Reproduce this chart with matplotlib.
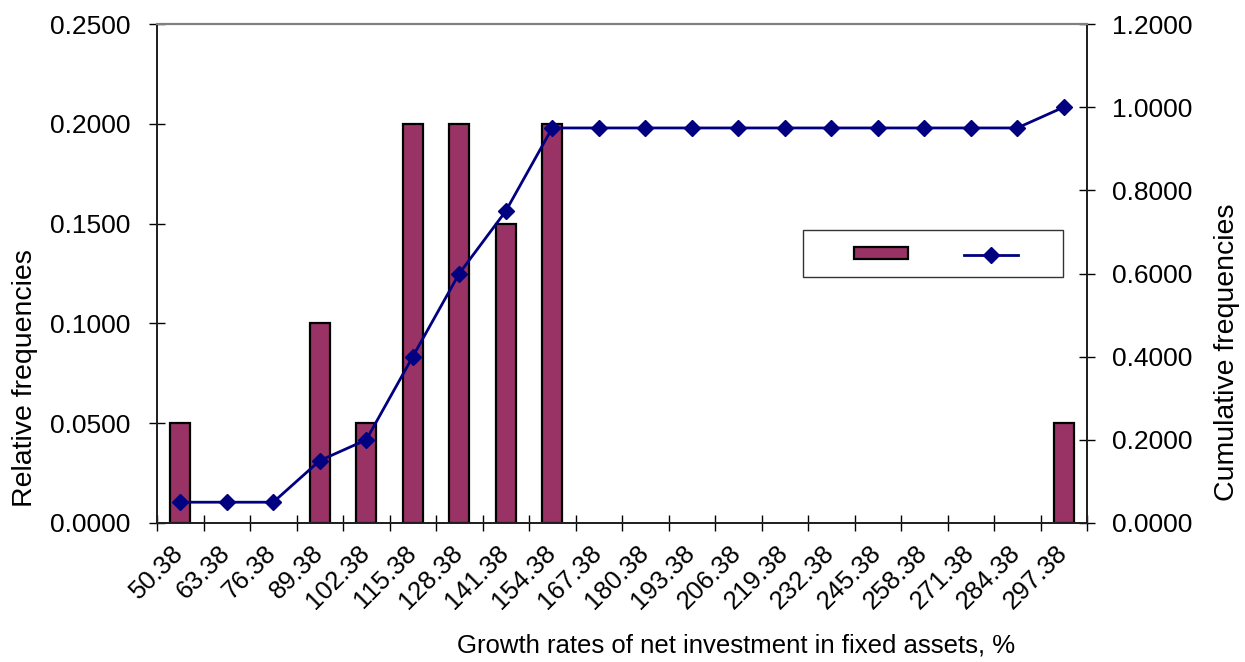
import matplotlib
matplotlib.use("Agg")
import matplotlib.pyplot as plt
from matplotlib.patches import Rectangle
from matplotlib.lines import Line2D
from matplotlib.transforms import ScaledTranslation
import numpy as np

# Interval labels (growth rates of net investment, %)
categories = ["50.38", "63.38", "76.38", "89.38", "102.38", "115.38", "128.38",
              "141.38", "154.38", "167.38", "180.38", "193.38", "206.38",
              "219.38", "232.38", "245.38", "258.38", "271.38", "284.38", "297.38"]

# Relative frequency per interval
relative = [0.05, 0.0, 0.0, 0.10, 0.05, 0.20, 0.20, 0.15, 0.20, 0.0,
            0.0, 0.0, 0.0, 0.0, 0.0, 0.0, 0.0, 0.0, 0.0, 0.05]

# Cumulative frequency per interval
cumulative = [0.05, 0.05, 0.05, 0.15, 0.20, 0.40, 0.60, 0.75, 0.95, 0.95,
              0.95, 0.95, 0.95, 0.95, 0.95, 0.95, 0.95, 0.95, 0.95, 1.00]

left_ticks = [0.0, 0.05, 0.10, 0.15, 0.20, 0.25]
right_ticks = [0.0, 0.2, 0.4, 0.6, 0.8, 1.0, 1.2]

plt.rcParams["font.family"] = ["Liberation Sans", "DejaVu Sans"]
FS_TICK = 19
FS_X = 18.5
FS_YLAB = 20.5

BAR_COLOR = "#993366"
LINE_COLOR = "#000080"

fig = plt.figure(figsize=(12.45, 6.62), dpi=100)
ax = fig.add_axes([157 / 1245, 1 - 523 / 662, (1087 - 157) / 1245, (523 - 24) / 662])
ax2 = ax.twinx()

x = np.arange(len(categories))
edge_widths = [1.6 if v > 0 else 0.0 for v in relative]
ax.bar(x, relative, width=0.43, color=BAR_COLOR, edgecolor="black",
       linewidth=edge_widths, zorder=2)
ax2.plot(x, cumulative, color=LINE_COLOR, linewidth=2.0, marker="D",
         markersize=8.5, markerfacecolor=LINE_COLOR, markeredgecolor=LINE_COLOR,
         zorder=3)

n = len(categories)
ax.set_xlim(-0.5, n - 0.5)
ax.set_ylim(0, 0.25)
ax2.set_ylim(0, 1.2)

# Category labels in the middle of each slot, tick marks on the slot boundaries
ax.set_xticks(x)
ax.set_xticklabels(categories, rotation=45, ha="right", va="top", fontsize=FS_X)
ax.tick_params(axis="x", which="major", length=0, pad=13)
shift = ScaledTranslation(8 / 100, 0, fig.dpi_scale_trans)
for lab in ax.get_xticklabels():
    lab.set_transform(lab.get_transform() + shift)
ax.set_xticks(np.arange(-0.5, n, 1.0), minor=True)
ax.tick_params(axis="x", which="minor", direction="inout", length=12,
               width=1.0, color="black")

ax.set_yticks(left_ticks)
ax.set_yticklabels([f"{v:.4f}" for v in left_ticks], fontsize=FS_TICK)
ax.tick_params(axis="y", direction="inout", length=12, width=1.0, pad=13)

ax2.set_yticks(right_ticks)
ax2.set_yticklabels([f"{v:.4f}" for v in right_ticks], fontsize=FS_TICK)
ax2.tick_params(axis="y", direction="inout", length=12, width=1.0, pad=12)

for a in (ax, ax2):
    a.spines["top"].set_color("#808080")
    a.spines["top"].set_linewidth(1.5)
    for s in ("left", "right", "bottom"):
        a.spines[s].set_color("#202020")
        a.spines[s].set_linewidth(1.3)

ax.set_zorder(ax2.get_zorder() - 1)
ax2.patch.set_visible(False)

# Axis titles
fig.text(736 / 1245, 1 - 645 / 662, "Growth rates of net investment in fixed assets, %",
         ha="center", va="center", fontsize=FS_X)
fig.text(25 / 1245, 1 - 378 / 662, "Relative frequencies", rotation=90,
         ha="center", va="center", fontsize=FS_YLAB)
fig.text(1227 / 1245, 1 - 352 / 662, "Cumulative frequencies", rotation=90,
         ha="center", va="center", fontsize=FS_YLAB)

# Key box with the two series symbols (no text)
def fx(px):
    return (px - 157) / (1087 - 157)

def fy(py):
    return (523 - py) / (523 - 24)

ax2.add_patch(Rectangle((fx(803), fy(277)), fx(1063) - fx(803), fy(230) - fy(277),
                        transform=ax2.transAxes, facecolor="white",
                        edgecolor="#333333", linewidth=1.0, zorder=5))
ax2.add_patch(Rectangle((fx(854), fy(259)), fx(908) - fx(854), fy(247) - fy(259),
                        transform=ax2.transAxes, facecolor=BAR_COLOR,
                        edgecolor="black", linewidth=1.6, zorder=6))
ax2.add_line(Line2D([fx(964), fx(1018)], [fy(255), fy(255)],
                    transform=ax2.transAxes, color=LINE_COLOR, linewidth=2.0,
                    zorder=6))
ax2.add_line(Line2D([fx(991)], [fy(255)], transform=ax2.transAxes,
                    color=LINE_COLOR, marker="D", markersize=8.5, zorder=7))

fig.savefig("out.png", dpi=100, facecolor="white")
